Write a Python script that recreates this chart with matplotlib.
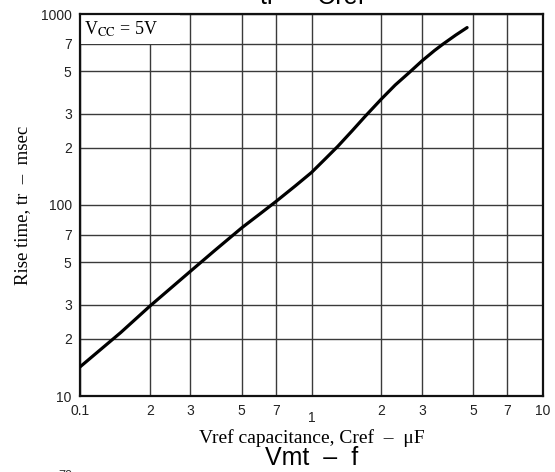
import numpy as np
import matplotlib
matplotlib.use('Agg')
import matplotlib.pyplot as plt
from matplotlib.ticker import FixedLocator, FixedFormatter, NullFormatter

# values (Cref in uF, tr in msec)
cref = [0.1, 0.15, 0.2, 0.3, 0.382, 0.5, 0.6, 0.7, 0.85, 1.0, 1.15, 1.3, 1.5, 1.7,
        2.0, 2.3, 2.65, 3.0, 3.4, 3.7, 4.2, 4.7]
rise = [14.2, 21.5, 29.5, 45, 57.8, 76, 90, 104, 125.7, 148, 175, 203, 245, 290,
        358, 425, 495, 568, 644, 696, 776, 849]

x_ticks = [0.1, 0.2, 0.3, 0.5, 0.7, 1, 2, 3, 5, 7, 10]
x_labels = ['0.1', '2', '3', '5', '7', '1', '2', '3', '5', '7', '10']
y_ticks = [10, 20, 30, 50, 70, 100, 200, 300, 500, 700, 1000]
y_labels = ['10', '2', '3', '5', '7', '100', '2', '3', '5', '7', '1000']

serif = 'Liberation Serif'
sans = 'Liberation Sans'

fig = plt.figure(figsize=(5.55, 4.72), dpi=100)
ax = fig.add_axes([80 / 555, 1 - 396 / 472, 463 / 555, 382 / 472])

ax.set_xscale('log')
ax.set_yscale('log')
ax.set_xlim(0.1, 10)
ax.set_ylim(10, 1000)

ax.xaxis.set_major_locator(FixedLocator(x_ticks))
ax.xaxis.set_major_formatter(FixedFormatter(x_labels))
ax.xaxis.set_minor_formatter(NullFormatter())
ax.xaxis.set_minor_locator(FixedLocator([]))
ax.yaxis.set_major_locator(FixedLocator(y_ticks))
ax.yaxis.set_major_formatter(FixedFormatter(y_labels))
ax.yaxis.set_minor_locator(FixedLocator([]))

ax.tick_params(length=0, labelsize=10, pad=6)
for lab in ax.get_xticklabels() + ax.get_yticklabels():
    lab.set_fontfamily(sans)
    lab.set_color('#222222')
# the "1" label sits a bit lower in the original
ax.xaxis.get_major_ticks()[5].set_pad(10.5)

ax.grid(True, which='major', color='#3a3a3a', linewidth=1.0)
for s in ax.spines.values():
    s.set_linewidth(1.6)
    s.set_color('#111111')

ax.plot(cref, rise, color='black', linewidth=2.3, solid_capstyle='round', zorder=3)

# white box with supply voltage note
ax.add_patch(plt.Rectangle((0, 1), 100 / 463, -30 / 382, transform=ax.transAxes,
                           facecolor='white', edgecolor='none', zorder=2))
ax.text(4 / 463, 1 - 15 / 382, r'V$_{\rm CC}$ = 5V', transform=ax.transAxes,
        fontsize=13, family=serif, va='center', ha='left', zorder=4,
        math_fontfamily='stix')

ax.set_xlabel('Vref capacitance, Cref  \u2013  \u03bcF', family=serif, fontsize=14, labelpad=3)
ax.set_ylabel('Rise time, tr  \u2013  msec', family=serif, fontsize=13.5, labelpad=7)

# cut-off captions of neighbouring charts
fig.text(312 / 555, 1 - 4 / 472, 'tr  \u2013  Cref', family=sans, fontsize=18,
         ha='center', va='baseline')
fig.text(312 / 555, 1 - 465 / 472, 'Vmt  \u2013  f', family=sans, fontsize=18,
         ha='center', va='baseline')
fig.text(65 / 555, 1 - 470 / 472, '70', family=sans, fontsize=9,
         ha='center', va='top', color='#333333')

fig.savefig('out.png', dpi=100)
